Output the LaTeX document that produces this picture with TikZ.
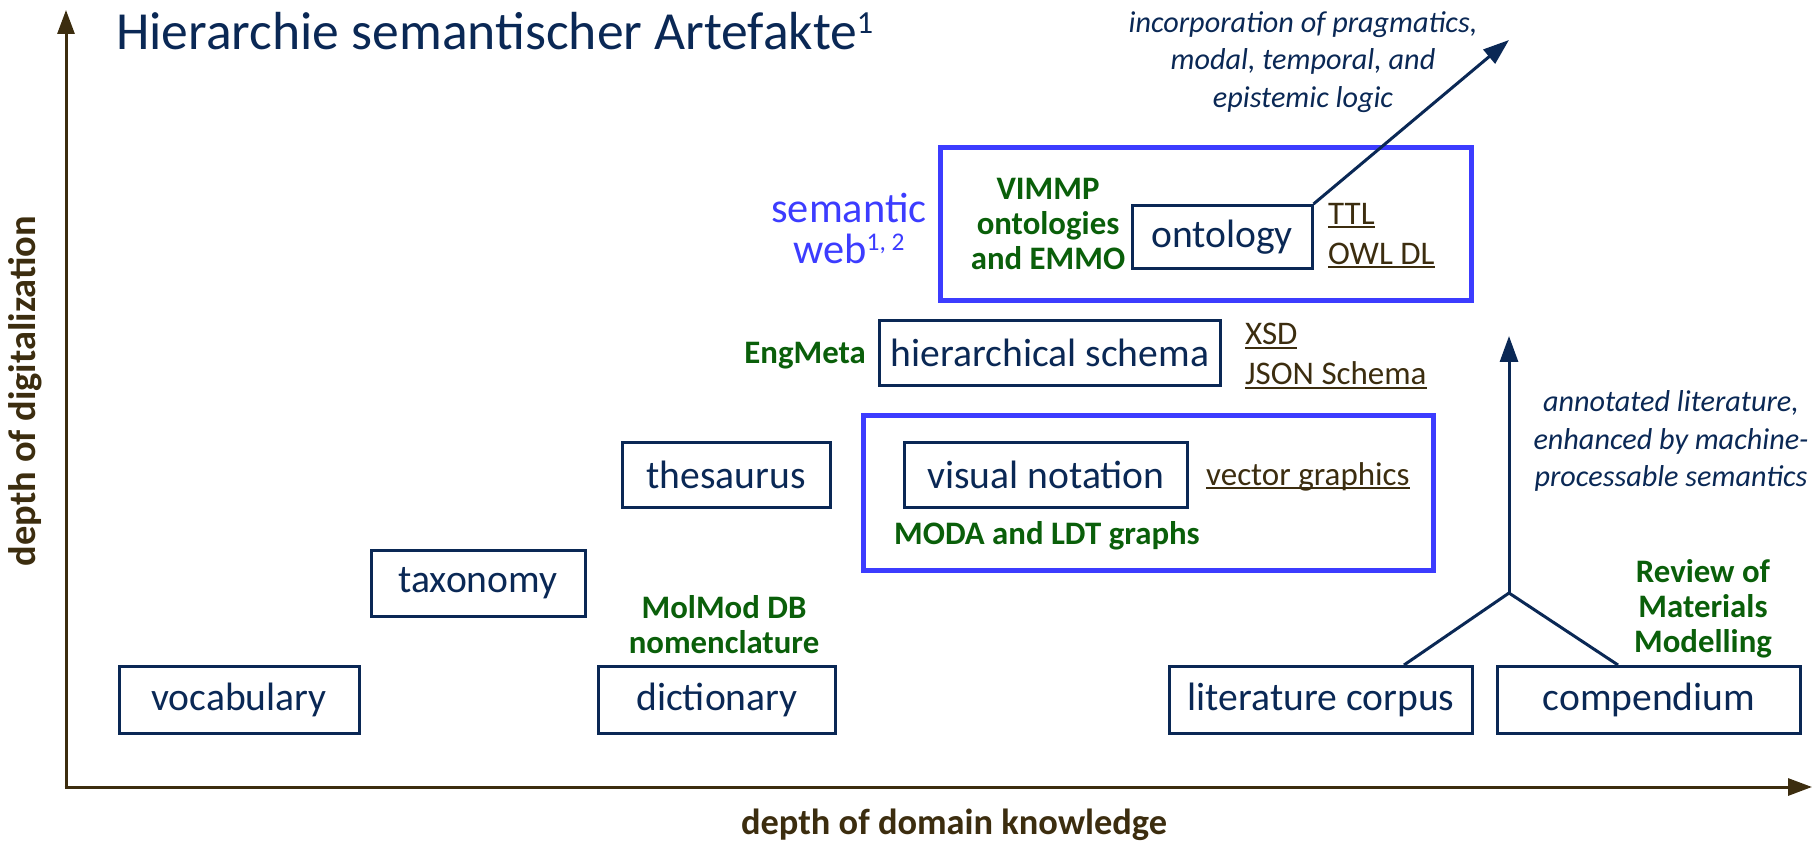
\documentclass[tikz,border=0pt]{standalone}
\usepackage{graphicx}
\usepackage{fontspec}
\setmainfont{Carlito}
\usetikzlibrary{arrows.meta}
\definecolor{navy}{RGB}{10,40,85}
\definecolor{webblue}{RGB}{60,60,255}
\definecolor{dkgreen}{RGB}{10,95,10}
\definecolor{axisbrown}{RGB}{60,45,15}
% underline that crosses the descenders
\newcommand{\linkul}[1]{{\setbox0\hbox{#1}\rlap{\rule[-0.11em]{\wd0}{0.06em}}\box0}}
% small raised reference marks
\newcommand{\refmark}[1]{\raisebox{0.3em}{\scalebox{0.6}{#1}}}
\tikzset{
  artefact/.style={draw=navy, line width=3pt, text=navy, inner sep=0pt,
    font=\fontsize{39.6}{46}\selectfont},
  webframe/.style={draw=webblue, line width=5pt},
  example/.style={text=dkgreen, align=center, inner sep=0pt,
    font=\bfseries\fontsize{32.8}{35}\selectfont},
  format/.style={text=axisbrown, align=left, anchor=west, inner sep=0pt,
    font=\fontsize{33}{40}\selectfont},
  remark/.style={text=navy, align=center, inner sep=0pt,
    font=\itshape\fontsize{30.2}{37.5}\selectfont},
  axis/.style={draw=axisbrown, line width=3pt, -{Triangle[length=24pt,width=17pt]}},
  link/.style={draw=navy, line width=3pt},
  linkarrow/.style={link, -{Triangle[length=26pt,width=18pt]}},
  axislabel/.style={text=axisbrown, inner sep=0pt, font=\bfseries\fontsize{36.4}{44}\selectfont}
}
\begin{document}
\begin{tikzpicture}[x=1pt,y=-1pt]
\useasboundingbox (0,0) rectangle (1816,842);

% axes
\coordinate (origin) at (66,787);
\coordinate (ytip) at (66,10);
\coordinate (xtip) at (1812,787);
\draw[axis] (origin) -- (ytip);
\draw[axis] ([xshift=-1.5pt]origin) -- (xtip);
\node[axislabel, rotate=90, font=\bfseries\fontsize{38.4}{44}\selectfont] (ylab) at (25,391) {depth of digitalization};
\node[axislabel] (xlab) at (954,825) {depth of domain knowledge};

% title
\node[anchor=base west, inner sep=0pt, text=navy, font=\fontsize{53.6}{60}\selectfont]
  (title) at (116,50) {Hierarchie semantischer Artefakte\refmark{1}};

% semantic web frames
\draw[webframe] (940,148) rectangle (1471,301);
\draw[webframe] (863,415) rectangle (1433,570);
\node[text=webblue, align=center, inner sep=0pt, font=\fontsize{42.4}{41}\selectfont]
  (semweb) at (849,228) {semantic\\web\refmark{1, 2}};

% artefacts
\node[artefact, minimum width=240, minimum height=67] (vocab) at (239,700) {vocabulary};
\node[artefact, minimum width=214, minimum height=66] (taxo) at (478,583) {taxonomy};
\node[artefact, minimum width=237, minimum height=67] (dict) at (717,700) {dictionary};
\node[artefact, minimum width=208, minimum height=65] (thes) at (726,475) {thesaurus};
\node[artefact, minimum width=283, minimum height=65] (visual) at (1046,475) {visual notation};
\node[artefact, minimum width=341, minimum height=65] (schema) at (1050,353) {hierarchical schema};
\node[artefact, minimum width=180, minimum height=63] (onto) at (1222,237) {ontology};
\node[artefact, minimum width=303, minimum height=67] (corpus) at (1321,700) {literature corpus};
\node[artefact, minimum width=303, minimum height=67] (comp) at (1649,700) {compendium};

% examples
\node[example] (vimmp) at (1048,224) {VIMMP\\ontologies\\and EMMO};
\node[example, anchor=east] (engmeta) at (866,356) {EngMeta};
\node[example] (moda) at (1047,536) {MODA and LDT graphs};
\node[example] (molmod) at (724,625) {MolMod DB\\nomenclature};
\node[example] (review) at (1703,609) {Review of\\Materials\\Modelling};

% formats
\node[format] (ttl) at (1328,236) {\linkul{TTL}\\\linkul{OWL DL}};
\node[format] (xsd) at (1245,356) {\linkul{XSD}\\\linkul{JSON Schema}};
\node[format] (vector) at (1206,477) {\linkul{vector graphics}};

% outlook arrows
\coordinate (ontotip) at (1509,40);
\draw[linkarrow] (onto.north east) -- (ontotip);
\node[remark] (logic) at (1303,62) {incorporation of pragmatics,\\modal, temporal, and\\epistemic logic};

\coordinate (fork) at (1509,593);
\coordinate (forktip) at (1509,336);
\draw[link] (corpus.north -| 1404,0) -- (fork) -- (comp.north -| 1618,0);
\draw[linkarrow] (fork) -- (forktip);
\node[remark] (annot) at (1671,441) {annotated literature,\\enhanced by machine-\\processable semantics};
\end{tikzpicture}
\end{document}
